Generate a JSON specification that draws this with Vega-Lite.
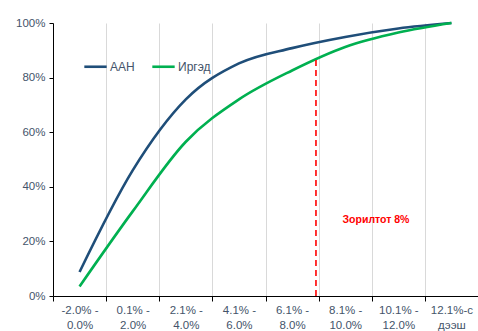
{
  "$schema": "https://vega.github.io/schema/vega-lite/v6.json",
  "width": 425,
  "height": 273,
  "autosize": "none",
  "padding": {"left": 53, "top": 23, "right": 0, "bottom": 35},
  "background": "white",
  "config": {
    "view": {"stroke": null},
    "font": "Liberation Sans",
    "axis": {"labelFont": "Liberation Sans", "labelColor": "#44546a", "labelFontSize": 11.5, "domainColor": "#000000", "tickColor": "#000000", "titleFontSize": 0}
  },
  "datasets": {
    "curves": [
      {"bucket": "-2.0% -|0.0%", "series": "ААН", "share": 0.088},
      {"bucket": "0.1% -|2.0%", "series": "ААН", "share": 0.46},
      {"bucket": "2.1% -|4.0%", "series": "ААН", "share": 0.72},
      {"bucket": "4.1% -|6.0%", "series": "ААН", "share": 0.852},
      {"bucket": "6.1% -|8.0%", "series": "ААН", "share": 0.908},
      {"bucket": "8.1% -|10.0%", "series": "ААН", "share": 0.949},
      {"bucket": "10.1% -|12.0%", "series": "ААН", "share": 0.98},
      {"bucket": "12.1%-с|дээш", "series": "ААН", "share": 1.0},
      {"bucket": "-2.0% -|0.0%", "series": "Иргэд", "share": 0.035},
      {"bucket": "0.1% -|2.0%", "series": "Иргэд", "share": 0.31},
      {"bucket": "2.1% -|4.0%", "series": "Иргэд", "share": 0.565},
      {"bucket": "4.1% -|6.0%", "series": "Иргэд", "share": 0.72},
      {"bucket": "6.1% -|8.0%", "series": "Иргэд", "share": 0.826},
      {"bucket": "8.1% -|10.0%", "series": "Иргэд", "share": 0.912},
      {"bucket": "10.1% -|12.0%", "series": "Иргэд", "share": 0.965},
      {"bucket": "12.1%-с|дээш", "series": "Иргэд", "share": 1.0}
    ],
    "target": [
      {"bucket": "6.1% -|8.0%", "y0": 0, "y1": 0.875}
    ],
    "note": [
      {"bucket": "10.1% -|12.0%", "share": 0.28, "label": "Зорилтот 8%"}
    ]
  },
  "layer": [
    {
      "data": {"name": "curves"},
      "mark": {"type": "line", "interpolate": "monotone", "strokeWidth": 2.6},
      "encoding": {
        "x": {
          "field": "bucket", "type": "nominal",
          "scale": {"domain": ["-2.0% -|0.0%", "0.1% -|2.0%", "2.1% -|4.0%", "4.1% -|6.0%", "6.1% -|8.0%", "8.1% -|10.0%", "10.1% -|12.0%", "12.1%-с|дээш"], "paddingInner": 0, "paddingOuter": 0},
          "axis": {
            "title": null, "labelAngle": 0, "tickBand": "extent", "grid": true,
            "gridColor": "#d9d9d9", "gridWidth": 1, "tickSize": 5,
            "labelExpr": "split(datum.label, '|')", "labelPadding": 3, "labelLineHeight": 15
          }
        },
        "y": {
          "field": "share", "type": "quantitative",
          "scale": {"domain": [0, 1], "nice": false},
          "axis": {"title": null, "format": ".0%", "values": [0, 0.2, 0.4, 0.6, 0.8, 1.0], "grid": false, "tickSize": 4, "labelPadding": 4}
        },
        "color": {
          "field": "series", "type": "nominal",
          "scale": {"domain": ["ААН", "Иргэд"], "range": ["#1f4e79", "#00b050"]},
          "legend": {
            "title": null, "orient": "none", "legendX": 30, "legendY": 31, "direction": "horizontal",
            "symbolType": "stroke", "symbolSize": 500, "symbolStrokeWidth": 2.6,
            "labelColor": "#44546a", "labelFontSize": 12, "labelFont": "Liberation Sans", "columnPadding": 12, "labelOffset": 2
          }
        }
      }
    },
    {
      "data": {"name": "target"},
      "mark": {"type": "rule", "color": "#ff0000", "strokeWidth": 1.6, "strokeDash": [6, 4]},
      "encoding": {
        "x": {"field": "bucket", "type": "nominal", "bandPosition": 0.95},
        "y": {"field": "y0", "type": "quantitative"},
        "y2": {"field": "y1"}
      }
    },
    {
      "data": {"name": "note"},
      "mark": {"type": "text", "color": "#ff0000", "fontWeight": "bold", "fontSize": 10.5, "font": "Liberation Sans"},
      "encoding": {
        "x": {"field": "bucket", "type": "nominal", "bandPosition": 0.08},
        "y": {"field": "share", "type": "quantitative"},
        "text": {"field": "label"}
      }
    }
  ]
}
